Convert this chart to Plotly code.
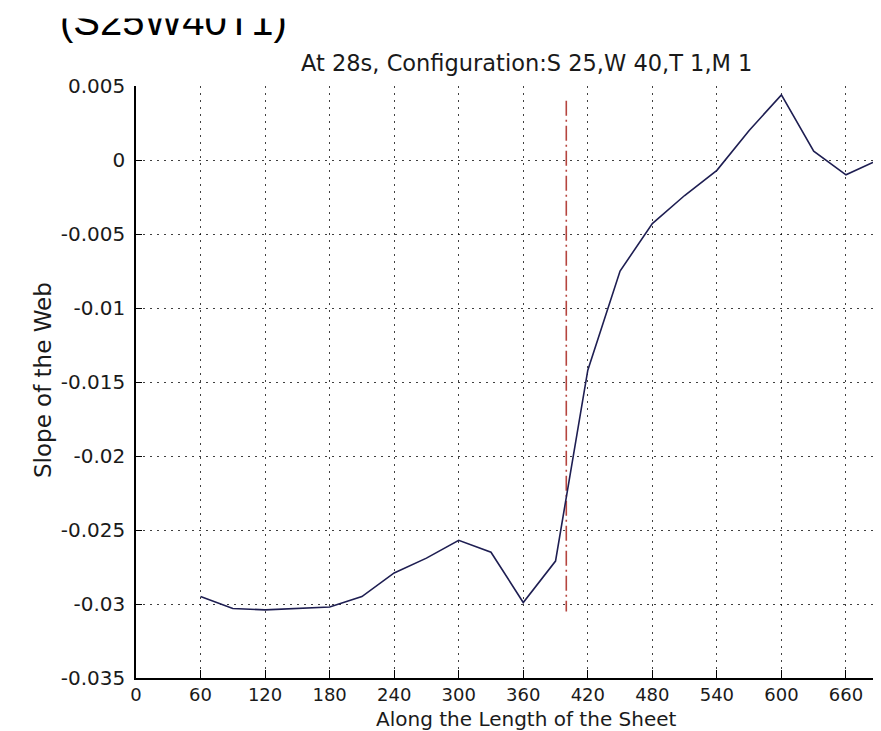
import plotly.graph_objects as go

# Data
x_pos = [60, 90, 120, 150, 180, 210, 240, 270, 300, 330, 360, 390,
         420, 450, 480, 510, 540, 570, 600, 630, 660, 690]
slope = [-0.0295, -0.0303, -0.0304, -0.0303, -0.0302, -0.0295, -0.0279,
         -0.0269, -0.0257, -0.0265, -0.0299, -0.0271, -0.0142, -0.0075,
         -0.0043, -0.0024, -0.0007, 0.0020, 0.0044, 0.0006, -0.0010, 0.0000]

marker_x = [400, 400]
marker_y = [0.0040, -0.0305]

x_ticks = [0, 60, 120, 180, 240, 300, 360, 420, 480, 540, 600, 660]
y_ticks = [0.005, 0, -0.005, -0.01, -0.015, -0.02, -0.025, -0.03, -0.035]
y_tick_text = ["0.005", "0", "-0.005", "-0.01", "-0.015", "-0.02", "-0.025", "-0.03", "-0.035"]

FONT = "DejaVu Sans, Verdana, sans-serif"
BIG_FONT = "Liberation Sans, Arial, sans-serif"
W, H = 881, 731
L, R, T, B = 128, 0, 78, 61
PW, PH = W - L - R, H - T - B
TITLE_CX = 518


def px_to_paper_x(px):
    return (px - L) / PW


def px_to_paper_y(py):
    return 1 + (T - py) / PH


fig = go.Figure()
fig.add_trace(go.Scatter(x=marker_x, y=marker_y, mode="lines",
                         line=dict(color="#b5453f", width=1.6, dash="15px,4px,2px,4px"),
                         showlegend=False, hoverinfo="skip"))
fig.add_trace(go.Scatter(x=x_pos, y=slope, mode="lines",
                         line=dict(color="#1e1e52", width=1.6),
                         showlegend=False))

axis_common = dict(
    ticks="inside", tickcolor="black", tickwidth=1,
    showline=True, linecolor="black", linewidth=1.5,
    showgrid=True, gridcolor="rgba(0,0,0,0.75)", griddash="2px,5px", gridwidth=1,
    zeroline=False,
)

fig.update_layout(
    width=W, height=H,
    margin=dict(l=L, r=R, t=T, b=B),
    paper_bgcolor="white", plot_bgcolor="white",
    font=dict(family=FONT, color="#1a1a1a"),
    showlegend=False,
    xaxis=dict(range=[0, 700], tickmode="array", tickvals=x_ticks, ticklen=8,
               ticklabelstandoff=0, tickfont=dict(size=18, family=FONT, color="#1a1a1a"),
               **axis_common),
    yaxis=dict(range=[-0.035, 0.005], tickmode="array", tickvals=y_ticks, ticktext=y_tick_text,
               ticklen=6, ticklabelstandoff=5, tickfont=dict(size=20, family=FONT, color="#1a1a1a"),
               **axis_common),
)

# Axis titles
fig.add_annotation(text="Along the Length of the Sheet",
                   xref="paper", yref="paper", x=px_to_paper_x(TITLE_CX), y=px_to_paper_y(711),
                   xanchor="center", yanchor="middle", showarrow=False,
                   font=dict(size=20, family=FONT, color="#1a1a1a"))
fig.add_annotation(text="Slope of the Web", textangle=-90,
                   xref="paper", yref="paper", x=px_to_paper_x(35), y=px_to_paper_y(372),
                   xanchor="center", yanchor="middle", showarrow=False,
                   font=dict(size=23, family=FONT, color="#1a1a1a"))

# Plot title
fig.add_annotation(text="At 28s, Configuration:S 25,W 40,T 1,M 1",
                   xref="paper", yref="paper", x=px_to_paper_x(TITLE_CX), y=px_to_paper_y(55),
                   xanchor="center", yanchor="middle", showarrow=False,
                   font=dict(size=22.5, family=FONT, color="#1a1a1a"))

# Large caption, cut off at the top in the reference
fig.add_annotation(text="(S25W40T1)",
                   xref="paper", yref="paper", x=px_to_paper_x(50), y=px_to_paper_y(13),
                   xanchor="left", yanchor="middle", showarrow=False,
                   font=dict(size=40, family=BIG_FONT, color="black"))
fig.add_annotation(text=" ", xref="paper", yref="paper",
                   x=px_to_paper_x(W / 2), y=px_to_paper_y(5),
                   xanchor="center", yanchor="middle", showarrow=False,
                   width=W, height=10, bgcolor="white", borderpad=0)

fig.write_html("out.html")
